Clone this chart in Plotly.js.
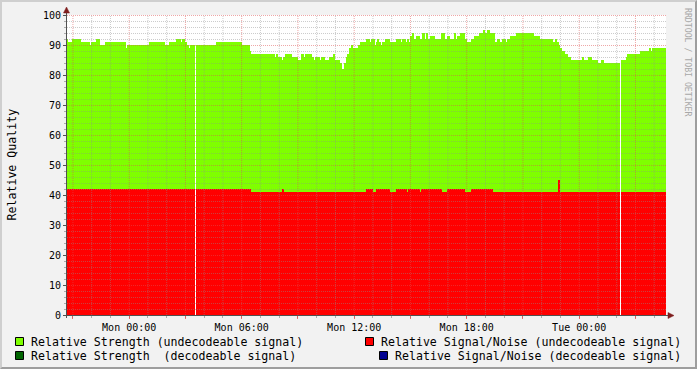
<!DOCTYPE html>
<html><head><meta charset="utf-8">
<script src="https://cdn.plot.ly/plotly-3.0.1.min.js"></script>
<style>
html,body{margin:0;padding:0;background:#F2F2F2;}
#frame{position:absolute;left:0;top:0;width:697px;height:369px;box-sizing:border-box;border-top:2px solid #CFCFCF;border-left:2px solid #CFCFCF;border-right:2px solid #9E9E9E;border-bottom:2px solid #9E9E9E;background:#F2F2F2;}
#chart{width:693px;height:365px;}
</style></head><body>
<div id="frame"><div id="chart"></div></div>
<script>
// 5-minute samples starting Sun 20:40
const sampleStartUTC = Date.UTC(2023, 11, 31, 20, 40, 0);
const sampleStepMs = 5 * 60 * 1000;

const strengthUndecodeable = [
92,91,91,91,92,92,92,92,92,91,91,91,91,91,91,90,91,91,91,92,92,90,90,90,
90,91,91,91,91,91,91,91,91,91,91,91,91,91,89,90,90,90,90,90,90,90,90,90,
90,90,90,90,90,91,91,91,91,91,91,91,91,91,91,90,90,90,91,91,91,91,92,92,
92,91,92,92,91,90,89,90,90,90,null,90,90,90,90,90,90,90,90,90,90,90,90,90,
91,91,91,91,91,91,91,91,91,91,91,91,91,91,91,91,90,90,90,90,90,88,87,87,
87,87,87,87,87,87,87,87,87,87,87,87,87,86,87,86,86,86,85,86,87,87,87,87,
86,86,86,86,85,85,87,87,86,87,87,87,87,86,85,86,86,86,85,86,86,85,85,85,
86,86,86,87,85,85,85,84,82,82,84,86,87,89,90,89,89,89,89,90,91,91,91,91,
92,92,91,92,92,90,91,92,91,90,91,91,92,92,92,91,91,91,91,92,92,92,91,92,
92,91,92,91,93,94,92,92,93,93,92,92,94,92,94,92,92,93,93,93,92,92,92,92,
94,94,92,92,93,92,92,92,94,92,93,93,94,94,94,92,91,91,91,92,92,93,93,93,
94,94,94,95,94,95,95,94,94,94,91,91,92,91,91,92,92,91,92,92,93,93,93,93,
94,94,94,94,94,94,94,94,94,94,94,93,93,93,93,92,92,92,92,92,92,92,92,91,
91,92,91,90,89,88,88,87,87,86,86,85,85,85,85,85,85,85,86,85,85,85,86,86,
85,85,85,85,84,84,85,85,84,84,84,84,84,84,84,84,84,84,null,85,85,85,86,87,
87,87,87,87,87,87,87,88,88,88,88,88,88,89,88,89,89,89,89,89,89,89,89,89
];

const snrUndecodeable = [
42,42,42,42,42,42,42,42,42,42,42,42,42,42,42,42,42,42,42,42,42,42,42,42,
42,42,42,42,42,42,42,42,42,42,42,42,42,42,42,42,42,42,42,42,42,42,42,42,
42,42,42,42,42,42,42,42,42,42,42,42,42,42,42,42,42,42,42,42,42,42,42,42,
42,42,42,42,42,42,42,42,42,42,null,42,42,42,42,42,42,42,42,42,42,42,42,42,
42,42,42,42,42,42,42,42,42,42,42,42,42,42,42,42,42,42,42,42,42,42,41,41,
41,41,41,41,41,41,41,41,41,41,41,41,41,41,41,41,41,41,42,41,41,41,41,41,
41,41,41,41,41,41,41,41,41,41,41,41,41,41,41,41,41,41,41,41,41,41,41,41,
41,41,41,41,41,41,41,41,41,41,41,41,41,41,41,41,41,41,41,41,41,41,41,41,
42,42,42,42,41,41,42,42,42,42,42,42,42,42,42,41,41,41,41,42,42,42,42,42,
42,42,41,42,42,42,42,42,42,42,41,42,42,42,42,42,42,42,42,42,42,42,42,42,
41,41,41,41,42,42,42,42,42,42,42,42,42,42,42,41,41,41,41,42,42,42,42,42,
42,42,42,42,42,42,42,42,42,41,41,41,41,41,41,41,41,41,41,41,41,41,41,41,
41,41,41,41,41,41,41,41,41,41,41,41,41,41,41,41,41,41,41,41,41,41,41,41,
41,41,41,45,41,41,41,41,41,41,41,41,41,41,41,41,41,41,41,41,41,41,41,41,
41,41,41,41,41,41,41,41,41,41,41,41,41,41,41,41,41,41,null,41,41,41,41,41,
41,41,41,41,41,41,41,41,41,41,41,41,41,41,41,41,41,41,41,41,41,41,41,41
];

const xRange = ['2023-12-31 20:41:00', '2024-01-02 04:37:44'];
const xTickVals = ['2023-12-31 21:00','2024-01-01 00:00','2024-01-01 03:00','2024-01-01 06:00','2024-01-01 09:00','2024-01-01 12:00','2024-01-01 15:00','2024-01-01 18:00','2024-01-01 21:00','2024-01-02 00:00','2024-01-02 03:00'];
const xTickText = ['','Mon 00:00','','Mon 06:00','','Mon 12:00','','Mon 18:00','','Tue 00:00',''];
const yTickVals = [0,10,20,30,40,50,60,70,80,90,100];
const yTickText = ['0','10','20','30','40','50','60','70','80','90','100'];

const legendLabels = [
  'Relative Strength (undecodeable signal)',
  'Relative Strength \u00A0(decodeable signal)',
  'Relative Signal/Noise (undecodeable signal)',
  'Relative Signal/Noise (decodeable signal)'
];
const seriesColors = ['#7FFF00', '#006400', '#FF0000', '#000090'];

function fmt(ms){ return new Date(ms).toISOString().slice(0,19).replace('T',' '); }
const times = strengthUndecodeable.map((_, i) => fmt(sampleStartUTC + i * sampleStepMs));

// pixel helpers (absolute page px -> paper coords); plot area 67..666 x 15..315
const PX = x => (x - 67) / 599;
const PY = y => (315 - y) / 300;

const traces = [
  {type:'bar', x:times, y:strengthUndecodeable, width:sampleStepMs, offset:0,
   marker:{color:seriesColors[0], line:{width:0}}, hoverinfo:'skip', name:legendLabels[0]},
  {type:'bar', x:times, y:snrUndecodeable, width:sampleStepMs, offset:0,
   marker:{color:seriesColors[2], line:{width:0}}, hoverinfo:'skip', name:legendLabels[2]}
];

const shapes = [];
const minorCol = 'rgba(143,143,143,0.45)';
const majorCol = 'rgba(222,80,80,0.5)';
// vertical grid: hourly, red every 3h
const startHour = Date.UTC(2023, 11, 31, 21, 0, 0);
const endMs = Date.UTC(2024, 0, 2, 4, 37, 44);
for (let t = startHour; t <= endMs; t += 3600000) {
  const h = new Date(t).getUTCHours();
  shapes.push({type:'line', layer:'above', xref:'x', yref:'paper', x0:fmt(t), x1:fmt(t), y0:0, y1:1,
    line:{color: h % 3 === 0 ? majorCol : minorCol, width:1, dash:'1px,1px'}});
}
// horizontal grid: every 2, red every 10
for (let v = 2; v <= 100; v += 2) {
  shapes.push({type:'line', layer:'above', xref:'paper', yref:'paper', x0:0, x1:1,
    y0:PY(315 - v*3 + 0.5), y1:PY(315 - v*3 + 0.5),
    line:{color: v % 10 === 0 ? majorCol : minorCol, width:1, dash:'1px,1px'}});
}
const axisCol = '#505050';
const arrowCol = '#7F1F1F';
// axis lines
shapes.push({type:'line', layer:'above', xref:'paper', yref:'paper', x0:PX(66.5), x1:PX(66.5), y0:PY(318), y1:PY(12), line:{color:axisCol, width:1}});
shapes.push({type:'line', layer:'above', xref:'paper', yref:'paper', x0:PX(63), x1:PX(670), y0:PY(315.5), y1:PY(315.5), line:{color:axisCol, width:1}});
// arrows
shapes.push({type:'path', layer:'above', xref:'paper', yref:'paper',
  path:`M${PX(66.5)},${PY(7)} L${PX(63.5)},${PY(13)} L${PX(69.5)},${PY(13)} Z`,
  fillcolor:arrowCol, line:{color:arrowCol, width:0.5}});
shapes.push({type:'path', layer:'above', xref:'paper', yref:'paper',
  path:`M${PX(674)},${PY(315.5)} L${PX(668)},${PY(312.5)} L${PX(668)},${PY(318.5)} Z`,
  fillcolor:arrowCol, line:{color:arrowCol, width:0.5}});

// legend swatches + labels
const legendPos = [
  {sx:15, sy:337, tx:30, ty:341.5},
  {sx:15, sy:351, tx:30, ty:355.5},
  {sx:365, sy:337, tx:380, ty:341.5},
  {sx:379, sy:351, tx:394, ty:355.5}
];
const annotations = [];
legendPos.forEach((p, i) => {
  shapes.push({type:'rect', xref:'paper', yref:'paper',
    x0:PX(p.sx + 0.5), x1:PX(p.sx + 8.5), y0:PY(p.sy + 0.5), y1:PY(p.sy + 8.5),
    fillcolor:seriesColors[i], line:{color:'#000', width:1}});
  annotations.push({xref:'paper', yref:'paper', x:PX(p.tx), y:PY(p.ty), xanchor:'left', yanchor:'middle',
    showarrow:false, borderpad:0, text:legendLabels[i],
    font:{family:'DejaVu Sans Mono', size:11.6, color:'#000'}});
});
annotations.push({xref:'paper', yref:'paper', x:PX(11.5), y:0.5, xanchor:'center', yanchor:'middle',
  textangle:-90, showarrow:false, borderpad:0, text:'Relative Quality',
  font:{family:'DejaVu Sans Mono', size:11.6, color:'#000'}});
annotations.push({xref:'paper', yref:'paper', x:PX(688), y:PY(62), xanchor:'center', yanchor:'middle',
  textangle:90, showarrow:false, borderpad:0, text:'RRDTOOL / TOBI OETIKER',
  font:{family:'DejaVu Sans Mono', size:8.2, color:'#A8A8A8'}});

const layout = {
  width:693, height:365,
  margin:{l:65, r:29, t:13, b:52, pad:0},
  paper_bgcolor:'#F2F2F2', plot_bgcolor:'#FFFFFF',
  barmode:'overlay', bargap:0, showlegend:false,
  font:{family:'DejaVu Sans Mono', size:10, color:'#000'},
  xaxis:{type:'date', range:xRange, tickmode:'array', tickvals:xTickVals, ticktext:xTickText,
    ticks:'outside', ticklen:3, tickcolor:'rgba(222,80,80,0.8)', showgrid:false, zeroline:false, showline:false,
    tickfont:{family:'DejaVu Sans Mono', size:10, color:'#000'}, fixedrange:true,
    minor:{dtick:3600000, tick0:'2024-01-01', ticks:'outside', ticklen:2, tickcolor:'rgba(143,143,143,0.7)', showgrid:false}},
  yaxis:{range:[0,100], tickmode:'array', tickvals:yTickVals, ticktext:yTickText,
    ticks:'outside', ticklen:3, tickcolor:'#505050', showgrid:false, zeroline:false, showline:false,
    tickfont:{family:'DejaVu Sans Mono', size:10, color:'#000'}, fixedrange:true,
    minor:{dtick:2, ticks:'outside', ticklen:2, tickcolor:'rgba(143,143,143,0.7)', showgrid:false}},
  shapes:shapes, annotations:annotations
};

Plotly.newPlot('chart', traces, layout, {displayModeBar:false, responsive:false});
</script>
</body></html>
